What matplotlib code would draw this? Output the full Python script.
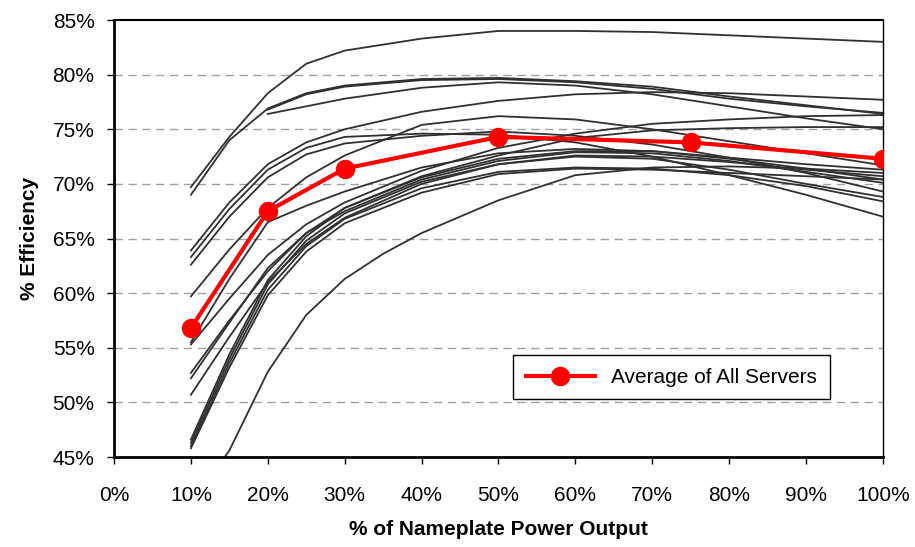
import matplotlib
matplotlib.use("Agg")
from matplotlib import pyplot as plt
from matplotlib.ticker import PercentFormatter, MultipleLocator

# load points (% of nameplate) shared by most servers
load = [10, 15, 20, 25, 30, 40, 50, 60, 70, 80, 90, 100]
load_from20 = [20, 25, 30, 40, 50, 60, 70, 80, 90, 100]
load_low = [14, 15, 20, 25, 30, 35, 40, 50, 60, 70, 80, 90, 100]

# efficiency curves of the individual servers (%)
srv_a = [69.7, 74.3, 78.3, 81.0, 82.2, 83.3, 84.0, 84.0, 83.9, 83.6, 83.3, 83.0]
srv_b = [69.0, 74.0, 76.9, 78.3, 79.0, 79.6, 79.7, 79.4, 78.9, 78.0, 77.2, 76.4]
srv_b2 = [76.8, 78.2, 78.9, 79.5, 79.6, 79.3, 78.7, 77.8, 77.1, 76.5]
srv_c = [76.4, 77.1, 77.8, 78.8, 79.3, 79.0, 78.2, 77.1, 76.0, 75.0]
srv_d = [63.9, 68.3, 71.8, 73.8, 75.0, 76.6, 77.6, 78.2, 78.4, 78.3, 78.0, 77.7]
srv_e = [63.3, 67.7, 71.3, 73.3, 74.3, 74.6, 74.5, 73.8, 72.5, 70.8, 69.0, 67.0]
srv_f = [62.6, 67.0, 70.6, 72.7, 73.7, 74.4, 74.8, 74.4, 73.6, 72.4, 71.0, 69.3]
srv_g = [59.7, 64.0, 67.8, 70.6, 72.6, 75.4, 76.2, 75.9, 75.0, 73.9, 72.8, 71.7]
srv_r1 = [55.3, 59.5, 63.5, 66.3, 68.3, 71.2, 73.3, 74.6, 75.5, 75.9, 76.2, 76.3]
srv_r2 = [52.7, 57.5, 62.0, 65.5, 67.8, 70.7, 72.6, 74.2, 74.9, 75.1, 75.2, 75.2]
srv_m = [55.5, 61.3, 66.5, 68.0, 69.3, 71.5, 72.8, 73.2, 73.0, 72.3, 71.4, 70.4]
srv_n = [52.2, 57.3, 62.3, 65.5, 67.5, 70.4, 72.1, 72.9, 72.8, 72.1, 71.1, 70.1]
srv_o = [50.7, 56.0, 61.0, 64.5, 66.9, 70.0, 71.8, 72.5, 72.3, 71.3, 70.0, 68.8]
srv_p1 = [46.6, 54.4, 61.2, 65.2, 67.8, 70.6, 72.3, 73.0, 73.0, 72.4, 71.8, 71.3]
srv_p2 = [46.3, 54.0, 60.8, 64.8, 67.3, 70.2, 71.8, 72.6, 72.5, 72.0, 71.3, 70.7]
srv_p3 = [46.0, 53.6, 60.3, 64.3, 66.8, 69.6, 71.1, 71.5, 71.4, 70.8, 69.8, 68.4]
srv_p4 = [45.8, 53.2, 59.8, 63.8, 66.4, 69.2, 70.9, 71.4, 71.3, 71.0, 70.7, 70.4]
srv_low = [44.6, 45.6, 52.8, 58.0, 61.3, 63.6, 65.5, 68.5, 70.8, 71.5, 71.6, 71.4, 71.0]

# average of all servers
avg_load = [10, 20, 30, 50, 75, 100]
avg_eff = [56.8, 67.5, 71.4, 74.3, 73.8, 72.3]

servers = [
    (load, srv_a), (load, srv_b), (load_from20, srv_b2), (load_from20, srv_c),
    (load, srv_d), (load, srv_e), (load, srv_f), (load, srv_g),
    (load, srv_r1), (load, srv_r2), (load, srv_m), (load, srv_n),
    (load, srv_o), (load, srv_p1), (load, srv_p2), (load, srv_p3),
    (load, srv_p4), (load_low, srv_low),
]

plt.rcParams['font.family'] = ['Liberation Sans', 'DejaVu Sans']

fig = plt.figure(figsize=(9.15, 5.47), dpi=100)
ax = fig.add_axes([0.1246, 0.1645, 0.8404, 0.7989])

for xs, ys in servers:
    ax.plot(xs, ys, color='#303030', lw=1.3, zorder=2)

ax.plot(avg_load, avg_eff, color='red', lw=3, marker='o', markersize=13,
        label='Average of All Servers', zorder=3)

ax.set_xlim(0, 100)
ax.set_ylim(45, 85)
ax.xaxis.set_major_locator(MultipleLocator(10))
ax.yaxis.set_major_locator(MultipleLocator(5))
ax.xaxis.set_major_formatter(PercentFormatter(decimals=0))
ax.yaxis.set_major_formatter(PercentFormatter(decimals=0))

for y in range(50, 85, 5):
    ax.axhline(y, color='#a0a0a0', lw=1, ls=(0, (6, 4)), zorder=1)

ax.tick_params(axis='both', direction='out', length=5, width=1, labelsize=15)
ax.tick_params(axis='x', pad=16)
ax.tick_params(axis='y', pad=9)

ax.spines['left'].set_linewidth(2)
ax.spines['bottom'].set_linewidth(2)
ax.spines['top'].set_linewidth(1.5)
ax.spines['right'].set_linewidth(1)

ax.set_xlabel('% of Nameplate Power Output', fontsize=15, fontweight='bold',
              labelpad=11)
ax.set_ylabel('% Efficiency', fontsize=15, fontweight='bold', labelpad=10)

leg = ax.legend(loc='center', bbox_to_anchor=(0.725, 0.182), fontsize=15,
                handlelength=3.3, fancybox=False, framealpha=1,
                edgecolor='black', borderpad=0.6)
leg.get_frame().set_linewidth(1)

fig.savefig('out.png', dpi=100)
